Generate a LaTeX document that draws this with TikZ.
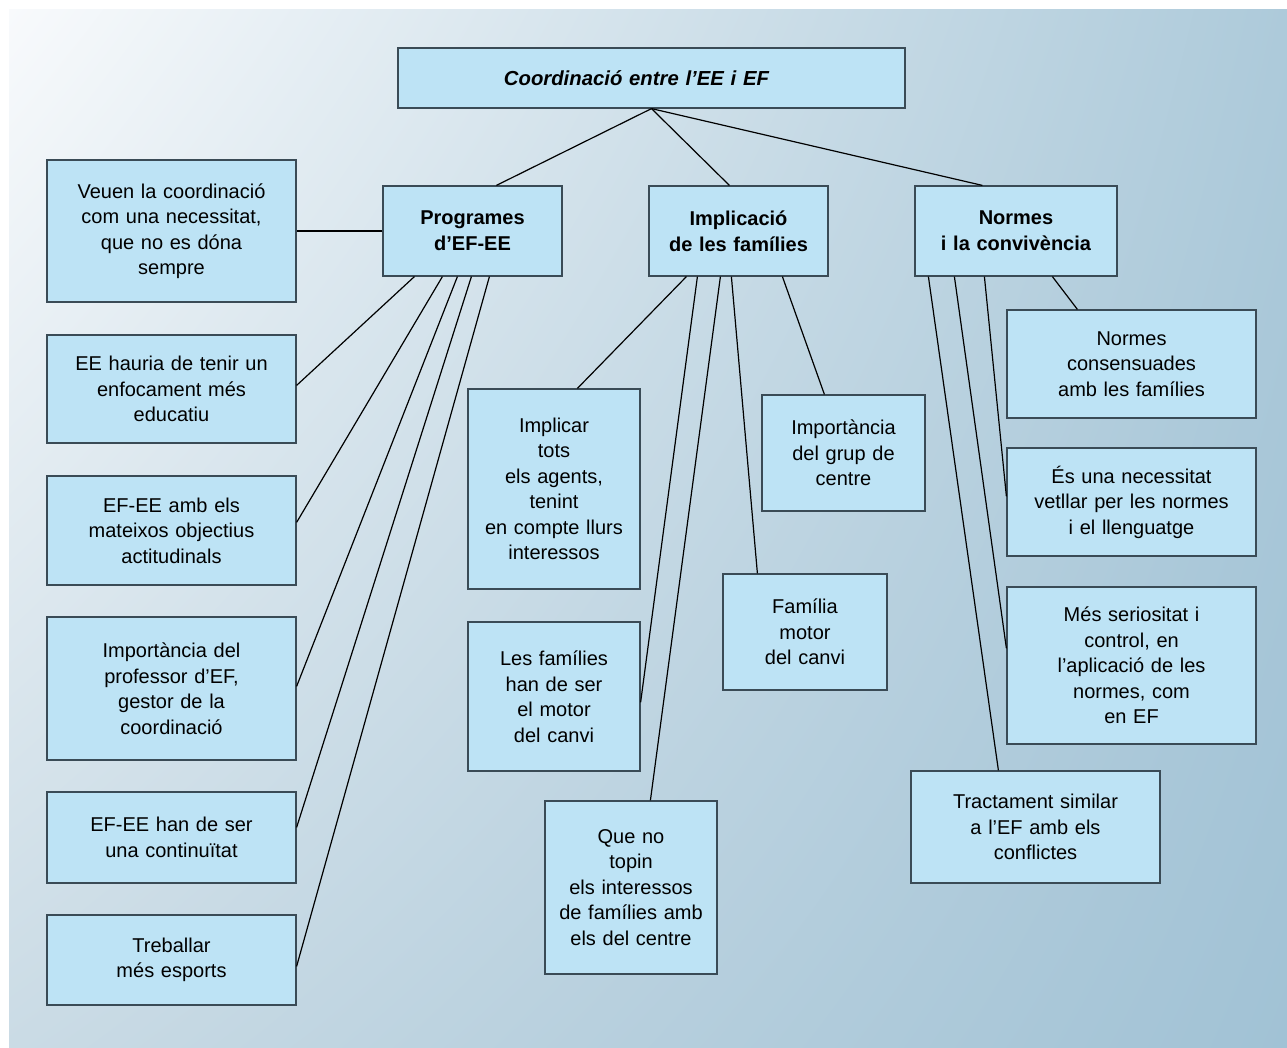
\documentclass[tikz,border=0pt]{standalone}
\usepackage{fontspec}
\setmainfont{Liberation Sans}
\usetikzlibrary{calc,shadings}
\definecolor{boxfill}{HTML}{BDE3F5}
\definecolor{boxdraw}{HTML}{3A4B56}
\definecolor{bgUL}{HTML}{F8FAFC}
\definecolor{bgUR}{HTML}{ADCADA}
\definecolor{bgLL}{HTML}{CADBE5}
\definecolor{bgLR}{HTML}{A1C2D5}
\tikzset{
  box/.style n args={2}{draw=boxdraw, fill=boxfill, line width=1.2pt,
    rectangle, inner xsep=0pt, inner ysep=0pt, align=center,
    text width=#1pt, minimum height=#2pt,
    font=\fontsize{20}{25.5}\selectfont},
  head/.style={font=\fontsize{20}{26}\selectfont\bfseries},
  conn/.style={draw=black, line width=1.2pt}
}
\begin{document}
\begin{tikzpicture}[x=1pt,y=-1pt]
\useasboundingbox (0,0) rectangle (1287,1047);
\fill[white] (0,0) rectangle (1287,1047);
\shade[upper left=bgUL, upper right=bgUR, lower left=bgLL, lower right=bgLR] (9,9) rectangle (1287,1047);

% top
\node[box={507}{60}, font=\fontsize{20.3}{25.5}\selectfont\bfseries\itshape] (title) at (651.5,78) {\hspace*{-30pt}Coordinació entre l’EE i EF};
\node[box={179}{90}, head] (prog) at (472.5,231) {Programes\\d’EF-EE};
\node[box={179}{90}, head] (impl) at (738.5,231) {Implicació\\de les famílies};
\node[box={202}{90}, head] (norm) at (1016,231) {Normes\\i la convivència};

% left column
\node[box={249}{142}] (L1) at (171.5,231) {Veuen la coordinació\\com una necessitat,\\que no es dóna\\sempre};
\node[box={249}{108}] (L2) at (171.5,389) {EE hauria de tenir un\\enfocament més\\educatiu};
\node[box={249}{109}] (L3) at (171.5,530.5) {EF-EE amb els\\mateixos objectius\\actitudinals};
\node[box={249}{143}] (L4) at (171.5,688.5) {Importància del\\professor d’EF,\\gestor de la\\coordinació};
\node[box={249}{91}] (L5) at (171.5,837.5) {EF-EE han de ser\\una continuïtat};
\node[box={249}{90}] (L6) at (171.5,960) {Treballar\\més esports};

% middle
\node[box={172}{200}] (M1) at (554,489) {Implicar\\tots\\els agents,\\tenint\\en compte llurs\\interessos};
\node[box={172}{149}] (M2) at (554,696.5) {Les famílies\\han de ser\\el motor\\del canvi};
\node[box={172}{173}] (M3) at (631,887.5) {Que no\\topin\\els interessos\\de famílies amb\\els del centre};
\node[box={163}{116}] (M4) at (843.5,453) {Importància\\del grup de\\centre};
\node[box={164}{116}] (M5) at (805,632) {Família\\motor\\del canvi};

% right
\node[box={249}{108}] (R1) at (1131.5,364) {Normes\\consensuades\\amb les famílies};
\node[box={249}{108}] (R2) at (1131.5,502) {És una necessitat\\vetllar per les normes\\i el llenguatge};
\node[box={249}{157}] (R3) at (1131.5,665.5) {Més seriositat i\\control, en\\l’aplicació de les\\normes, com\\en EF};
\node[box={249}{112}] (R4) at (1035.5,827) {Tractament similar\\a l’EF amb els\\conflictes};

% connectors from title
\draw[conn] (title.south) -- ($(prog.north west)+(114,0)$);
\draw[conn] (title.south) -- ($(impl.north west)+(81,0)$);
\draw[conn] (title.south) -- ($(norm.north west)+(68,0)$);

% Programes
\draw[conn] (prog.west) -- (L1.east);
\draw[conn] ($(prog.south west)+(32,0)$) -- ($(L2.north east)+(0,51)$);
\draw[conn] ($(prog.south west)+(60,0)$) -- ($(L3.north east)+(0,47)$);
\draw[conn] ($(prog.south west)+(75,0)$) -- ($(L4.north east)+(0,70)$);
\draw[conn] ($(prog.south west)+(89,0)$) -- ($(L5.north east)+(0,36)$);
\draw[conn] ($(prog.south west)+(107,0)$) -- ($(L6.north east)+(0,52)$);

% Implicacio
\draw[conn] ($(impl.south west)+(38,0)$) -- ($(M1.north west)+(110,0)$);
\draw[conn] ($(impl.south west)+(49,0)$) -- ($(M2.north east)+(0,81)$);
\draw[conn] ($(impl.south west)+(72,0)$) -- ($(M3.north west)+(106,0)$);
\draw[conn] ($(impl.south west)+(83,0)$) -- ($(M5.north west)+(35,0)$);
\draw[conn] ($(impl.south west)+(134,0)$) -- ($(M4.north west)+(63,0)$);

% Normes
\draw[conn] ($(norm.south west)+(14,0)$) -- ($(R4.north west)+(88,0)$);
\draw[conn] ($(norm.south west)+(40,0)$) -- ($(R3.north west)+(0,62)$);
\draw[conn] ($(norm.south west)+(70,0)$) -- ($(R2.north west)+(0,49)$);
\draw[conn] ($(norm.south west)+(138,0)$) -- ($(R1.north west)+(71,0)$);
\end{tikzpicture}
\end{document}
